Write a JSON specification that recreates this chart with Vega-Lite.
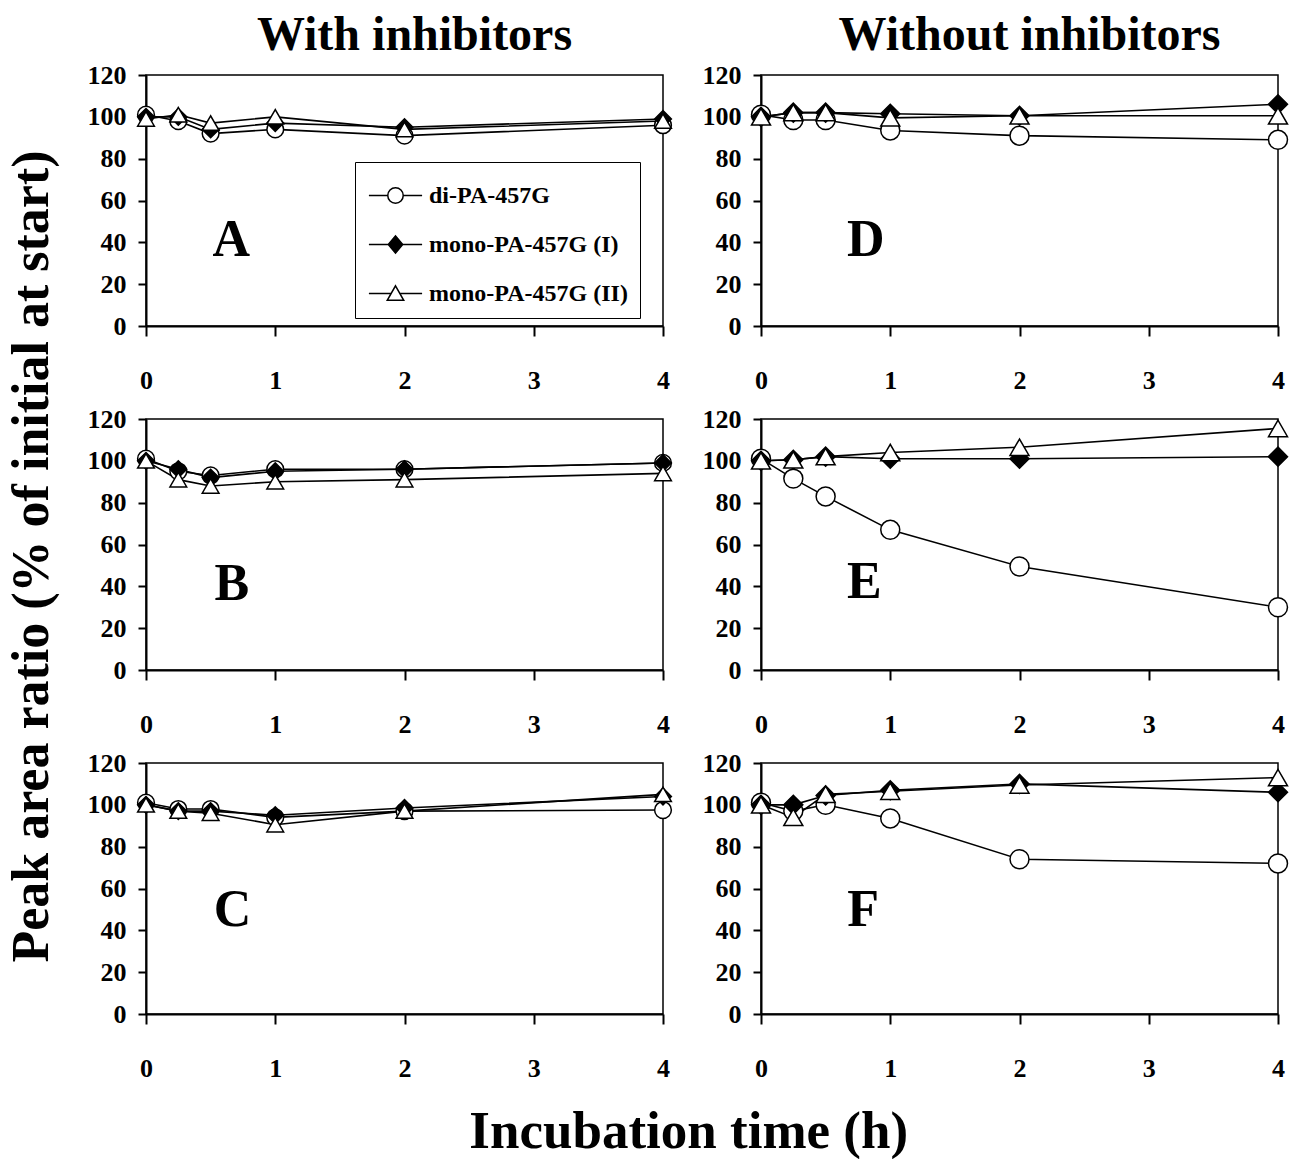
{
  "$schema": "https://vega.github.io/schema/vega-lite/v6.json",
  "background": "white",
  "padding": {"left": 6, "top": 11, "right": 5, "bottom": 5},
  "config": {
    "font": "Liberation Serif",
    "view": {"stroke": "black", "strokeWidth": 1.5},
    "axis": {"domainColor": "black", "domainWidth": 2, "tickColor": "black", "tickWidth": 2, "labelFont": "Liberation Serif", "labelFontWeight": "bold", "labelFontSize": 26, "labelColor": "black", "grid": false, "title": null, "labelFlush": false},
    "axisX": {"tickSize": 10, "labelPadding": 31, "format": "d"},
    "axisY": {"tickSize": 8, "labelPadding": 12, "format": "d"},
    "title": {"font": "Liberation Serif", "fontWeight": "bold", "color": "black"}
  },
  "datasets": {
    "main": [
      {"p":"A","s":"di-PA-457G","t":0,"v":101},{"p":"A","s":"di-PA-457G","t":0.25,"v":98},{"p":"A","s":"di-PA-457G","t":0.5,"v":92},{"p":"A","s":"di-PA-457G","t":1,"v":94},{"p":"A","s":"di-PA-457G","t":2,"v":91},{"p":"A","s":"di-PA-457G","t":4,"v":96},
      {"p":"A","s":"mono-PA-457G (I)","t":0,"v":100},{"p":"A","s":"mono-PA-457G (I)","t":0.25,"v":100},{"p":"A","s":"mono-PA-457G (I)","t":0.5,"v":94},{"p":"A","s":"mono-PA-457G (I)","t":1,"v":97},{"p":"A","s":"mono-PA-457G (I)","t":2,"v":95},{"p":"A","s":"mono-PA-457G (I)","t":4,"v":99},
      {"p":"A","s":"mono-PA-457G (II)","t":0,"v":99},{"p":"A","s":"mono-PA-457G (II)","t":0.25,"v":101},{"p":"A","s":"mono-PA-457G (II)","t":0.5,"v":97},{"p":"A","s":"mono-PA-457G (II)","t":1,"v":100},{"p":"A","s":"mono-PA-457G (II)","t":2,"v":94},{"p":"A","s":"mono-PA-457G (II)","t":4,"v":98},
      {"p":"B","s":"di-PA-457G","t":0,"v":101},{"p":"B","s":"di-PA-457G","t":0.25,"v":95},{"p":"B","s":"di-PA-457G","t":0.5,"v":93},{"p":"B","s":"di-PA-457G","t":1,"v":96},{"p":"B","s":"di-PA-457G","t":2,"v":96},{"p":"B","s":"di-PA-457G","t":4,"v":99},
      {"p":"B","s":"mono-PA-457G (I)","t":0,"v":100},{"p":"B","s":"mono-PA-457G (I)","t":0.25,"v":96},{"p":"B","s":"mono-PA-457G (I)","t":0.5,"v":92},{"p":"B","s":"mono-PA-457G (I)","t":1,"v":95},{"p":"B","s":"mono-PA-457G (I)","t":2,"v":96},{"p":"B","s":"mono-PA-457G (I)","t":4,"v":99},
      {"p":"B","s":"mono-PA-457G (II)","t":0,"v":100},{"p":"B","s":"mono-PA-457G (II)","t":0.25,"v":91},{"p":"B","s":"mono-PA-457G (II)","t":0.5,"v":88},{"p":"B","s":"mono-PA-457G (II)","t":1,"v":90},{"p":"B","s":"mono-PA-457G (II)","t":2,"v":91},{"p":"B","s":"mono-PA-457G (II)","t":4,"v":94},
      {"p":"C","s":"di-PA-457G","t":0,"v":101},{"p":"C","s":"di-PA-457G","t":0.25,"v":98},{"p":"C","s":"di-PA-457G","t":0.5,"v":98},{"p":"C","s":"di-PA-457G","t":1,"v":94},{"p":"C","s":"di-PA-457G","t":2,"v":97},{"p":"C","s":"di-PA-457G","t":4,"v":97.5},
      {"p":"C","s":"mono-PA-457G (I)","t":0,"v":100},{"p":"C","s":"mono-PA-457G (I)","t":0.25,"v":97},{"p":"C","s":"mono-PA-457G (I)","t":0.5,"v":97},{"p":"C","s":"mono-PA-457G (I)","t":1,"v":95},{"p":"C","s":"mono-PA-457G (I)","t":2,"v":98.5},{"p":"C","s":"mono-PA-457G (I)","t":4,"v":104},
      {"p":"C","s":"mono-PA-457G (II)","t":0,"v":100},{"p":"C","s":"mono-PA-457G (II)","t":0.25,"v":97},{"p":"C","s":"mono-PA-457G (II)","t":0.5,"v":96},{"p":"C","s":"mono-PA-457G (II)","t":1,"v":90.5},{"p":"C","s":"mono-PA-457G (II)","t":2,"v":97},{"p":"C","s":"mono-PA-457G (II)","t":4,"v":105},
      {"p":"D","s":"di-PA-457G","t":0,"v":101},{"p":"D","s":"di-PA-457G","t":0.25,"v":98.5},{"p":"D","s":"di-PA-457G","t":0.5,"v":98.5},{"p":"D","s":"di-PA-457G","t":1,"v":93.5},{"p":"D","s":"di-PA-457G","t":2,"v":91},{"p":"D","s":"di-PA-457G","t":4,"v":89},
      {"p":"D","s":"mono-PA-457G (I)","t":0,"v":100},{"p":"D","s":"mono-PA-457G (I)","t":0.25,"v":102},{"p":"D","s":"mono-PA-457G (I)","t":0.5,"v":102},{"p":"D","s":"mono-PA-457G (I)","t":1,"v":101.5},{"p":"D","s":"mono-PA-457G (I)","t":2,"v":100.5},{"p":"D","s":"mono-PA-457G (I)","t":4,"v":106},
      {"p":"D","s":"mono-PA-457G (II)","t":0,"v":100},{"p":"D","s":"mono-PA-457G (II)","t":0.25,"v":102},{"p":"D","s":"mono-PA-457G (II)","t":0.5,"v":102},{"p":"D","s":"mono-PA-457G (II)","t":1,"v":99.5},{"p":"D","s":"mono-PA-457G (II)","t":2,"v":100.5},{"p":"D","s":"mono-PA-457G (II)","t":4,"v":100.5},
      {"p":"E","s":"di-PA-457G","t":0,"v":101},{"p":"E","s":"di-PA-457G","t":0.25,"v":91.5},{"p":"E","s":"di-PA-457G","t":0.5,"v":83},{"p":"E","s":"di-PA-457G","t":1,"v":67},{"p":"E","s":"di-PA-457G","t":2,"v":49.5},{"p":"E","s":"di-PA-457G","t":4,"v":30},
      {"p":"E","s":"mono-PA-457G (I)","t":0,"v":100},{"p":"E","s":"mono-PA-457G (I)","t":0.25,"v":100.5},{"p":"E","s":"mono-PA-457G (I)","t":0.5,"v":102},{"p":"E","s":"mono-PA-457G (I)","t":1,"v":101},{"p":"E","s":"mono-PA-457G (I)","t":2,"v":101},{"p":"E","s":"mono-PA-457G (I)","t":4,"v":102},
      {"p":"E","s":"mono-PA-457G (II)","t":0,"v":100},{"p":"E","s":"mono-PA-457G (II)","t":0.25,"v":100.5},{"p":"E","s":"mono-PA-457G (II)","t":0.5,"v":102},{"p":"E","s":"mono-PA-457G (II)","t":1,"v":104},{"p":"E","s":"mono-PA-457G (II)","t":2,"v":106.5},{"p":"E","s":"mono-PA-457G (II)","t":4,"v":115.5},
      {"p":"F","s":"di-PA-457G","t":0,"v":101},{"p":"F","s":"di-PA-457G","t":0.25,"v":97},{"p":"F","s":"di-PA-457G","t":0.5,"v":100},{"p":"F","s":"di-PA-457G","t":1,"v":93.5},{"p":"F","s":"di-PA-457G","t":2,"v":74},{"p":"F","s":"di-PA-457G","t":4,"v":72},
      {"p":"F","s":"mono-PA-457G (I)","t":0,"v":100},{"p":"F","s":"mono-PA-457G (I)","t":0.25,"v":100},{"p":"F","s":"mono-PA-457G (I)","t":0.5,"v":104.5},{"p":"F","s":"mono-PA-457G (I)","t":1,"v":107},{"p":"F","s":"mono-PA-457G (I)","t":2,"v":110},{"p":"F","s":"mono-PA-457G (I)","t":4,"v":106},
      {"p":"F","s":"mono-PA-457G (II)","t":0,"v":100},{"p":"F","s":"mono-PA-457G (II)","t":0.25,"v":94},{"p":"F","s":"mono-PA-457G (II)","t":0.5,"v":105},{"p":"F","s":"mono-PA-457G (II)","t":1,"v":106.5},{"p":"F","s":"mono-PA-457G (II)","t":2,"v":109.5},{"p":"F","s":"mono-PA-457G (II)","t":4,"v":113}
    ],
    "letters": [
      {"p":"A","t":0.66,"v":41},{"p":"B","t":0.665,"v":41},{"p":"C","t":0.67,"v":49.5},
      {"p":"D","t":0.81,"v":41},{"p":"E","t":0.8,"v":42},{"p":"F","t":0.79,"v":49.5}
    ]
  },
  "title": {"text": "Incubation time (h)", "orient": "bottom", "anchor": "middle", "fontSize": 53, "baseline": "top", "offset": 24, "dx": 40},
  "vconcat": [
    {
      "title": {"text": "Peak area ratio (% of initial at start)", "orient": "left", "anchor": "middle", "fontSize": 52, "baseline": "bottom", "offset": -25, "dx": -10},
      "columns": 2,
      "bounds": "flush",
      "spacing": {"row": 93, "column": 98},
      "resolve": {"scale": {"fill": "independent", "shape": "independent", "stroke": "independent"}},
      "concat": [
        {
          "width": 517, "height": 251,
          "title": {"text": "With inhibitors", "fontSize": 48, "anchor": "middle", "frame": "group", "dx": 10, "baseline": "alphabetic", "offset": -36},
          "resolve": {"scale": {"fill": "independent", "shape": "independent", "stroke": "independent"}},
          "layer": [
            {"data": {"name": "main"}, "transform": [{"filter": "datum.p == 'A'"}],
             "mark": {"type": "line", "color": "black", "strokeWidth": 1.6},
             "encoding": {
               "x": {"field": "t", "type": "quantitative", "scale": {"domain": [0, 4], "nice": false}, "axis": {"values": [0, 1, 2, 3, 4]}},
               "y": {"field": "v", "type": "quantitative", "scale": {"domain": [0, 120], "nice": false}, "axis": {"values": [0, 20, 40, 60, 80, 100, 120]}},
               "detail": {"field": "s"}}},
            {"data": {"name": "main"}, "transform": [{"filter": "datum.p == 'A'"}],
             "mark": {"type": "point", "filled": true, "stroke": "black", "strokeWidth": 1.5, "opacity": 1, "size": 280},
             "encoding": {
               "x": {"field": "t", "type": "quantitative"},
               "y": {"field": "v", "type": "quantitative"},
               "fill": {"field": "s", "type": "nominal", "scale": {"domain": ["di-PA-457G", "mono-PA-457G (I)", "mono-PA-457G (II)"], "range": ["white", "black", "white"]}, "legend": null},
               "shape": {"field": "s", "type": "nominal", "scale": {"domain": ["di-PA-457G", "mono-PA-457G (I)", "mono-PA-457G (II)"], "range": ["circle", "diamond", "triangle-up"]}, "legend": null}}},
            {"data": {"name": "main"}, "transform": [{"filter": "datum.p == 'A'"}],
             "mark": {"type": "point", "filled": true, "strokeWidth": 1.5, "opacity": 1, "size": 0},
             "encoding": {
               "x": {"field": "t", "type": "quantitative"},
               "y": {"field": "v", "type": "quantitative"},
               "fill": {"field": "s", "type": "nominal", "scale": {"domain": ["di-PA-457G", "mono-PA-457G (I)", "mono-PA-457G (II)"], "range": ["white", "black", "white"]},
                 "legend": {"orient": "none", "legendX": 209, "legendY": 87, "title": null, "strokeColor": "black", "fillColor": "white", "padding": 12, "symbolSize": 1700, "symbolStrokeWidth": 1.5, "symbolOffset": 7, "labelOffset": 12, "labelFont": "Liberation Serif", "labelFontWeight": "bold", "labelFontSize": 24, "labelColor": "black", "labelLimit": 400, "rowPadding": 15}},
               "stroke": {"field": "s", "type": "nominal", "scale": {"domain": ["di-PA-457G", "mono-PA-457G (I)", "mono-PA-457G (II)"], "range": ["black", "black", "black"]},
                 "legend": {"orient": "none", "legendX": 209, "legendY": 87, "title": null, "strokeColor": "black", "fillColor": "white", "padding": 12, "symbolSize": 1700, "symbolStrokeWidth": 1.5, "symbolOffset": 7, "labelOffset": 12, "labelFont": "Liberation Serif", "labelFontWeight": "bold", "labelFontSize": 24, "labelColor": "black", "labelLimit": 400, "rowPadding": 15}},
               "shape": {"field": "s", "type": "nominal", "scale": {"domain": ["di-PA-457G", "mono-PA-457G (I)", "mono-PA-457G (II)"], "range": ["M-1.29,0H-0.375M0.375,0H1.29M0.375,0A0.375,0.375,0,1,1,-0.375,0A0.375,0.375,0,1,1,0.375,0Z", "M-1.29,0H-0.35M0.35,0H1.29M-0.35,0L0,-0.42L0.35,0L0,0.42Z", "M-1.29,0H-0.211M0.211,0H1.29M0,-0.37L0.4,0.33L-0.4,0.33Z"]},
                 "legend": {"orient": "none", "legendX": 209, "legendY": 87, "title": null, "strokeColor": "black", "fillColor": "white", "padding": 12, "symbolSize": 1700, "symbolStrokeWidth": 1.5, "symbolOffset": 7, "labelOffset": 12, "labelFont": "Liberation Serif", "labelFontWeight": "bold", "labelFontSize": 24, "labelColor": "black", "labelLimit": 400, "rowPadding": 15}}}},
            {"data": {"name": "letters"}, "transform": [{"filter": "datum.p == 'A'"}],
             "mark": {"type": "text", "fontSize": 52, "fontWeight": "bold", "font": "Liberation Serif", "align": "center", "baseline": "middle", "color": "black"},
             "encoding": {"x": {"field": "t", "type": "quantitative"}, "y": {"field": "v", "type": "quantitative"}, "text": {"field": "p"}}}
          ]
        },
        {
          "width": 517, "height": 251,
          "title": {"text": "Without inhibitors", "fontSize": 48, "anchor": "middle", "frame": "group", "dx": 10, "baseline": "alphabetic", "offset": -36},
          "layer": [
            {"data": {"name": "main"}, "transform": [{"filter": "datum.p == 'D'"}],
             "mark": {"type": "line", "color": "black", "strokeWidth": 1.6},
             "encoding": {
               "x": {"field": "t", "type": "quantitative", "scale": {"domain": [0, 4], "nice": false}, "axis": {"values": [0, 1, 2, 3, 4]}},
               "y": {"field": "v", "type": "quantitative", "scale": {"domain": [0, 120], "nice": false}, "axis": {"values": [0, 20, 40, 60, 80, 100, 120]}},
               "detail": {"field": "s"}}},
            {"data": {"name": "main"}, "transform": [{"filter": "datum.p == 'D'"}],
             "mark": {"type": "point", "filled": true, "stroke": "black", "strokeWidth": 1.5, "opacity": 1, "size": 360},
             "encoding": {
               "x": {"field": "t", "type": "quantitative"},
               "y": {"field": "v", "type": "quantitative"},
               "fill": {"field": "s", "type": "nominal", "scale": {"domain": ["di-PA-457G", "mono-PA-457G (I)", "mono-PA-457G (II)"], "range": ["white", "black", "white"]}, "legend": null},
               "shape": {"field": "s", "type": "nominal", "scale": {"domain": ["di-PA-457G", "mono-PA-457G (I)", "mono-PA-457G (II)"], "range": ["circle", "diamond", "triangle-up"]}, "legend": null}}},
            {"data": {"name": "letters"}, "transform": [{"filter": "datum.p == 'D'"}],
             "mark": {"type": "text", "fontSize": 52, "fontWeight": "bold", "font": "Liberation Serif", "align": "center", "baseline": "middle", "color": "black"},
             "encoding": {"x": {"field": "t", "type": "quantitative"}, "y": {"field": "v", "type": "quantitative"}, "text": {"field": "p"}}}
          ]
        },
        {
          "width": 517, "height": 251,
          "layer": [
            {"data": {"name": "main"}, "transform": [{"filter": "datum.p == 'B'"}],
             "mark": {"type": "line", "color": "black", "strokeWidth": 1.6},
             "encoding": {
               "x": {"field": "t", "type": "quantitative", "scale": {"domain": [0, 4], "nice": false}, "axis": {"values": [0, 1, 2, 3, 4]}},
               "y": {"field": "v", "type": "quantitative", "scale": {"domain": [0, 120], "nice": false}, "axis": {"values": [0, 20, 40, 60, 80, 100, 120]}},
               "detail": {"field": "s"}}},
            {"data": {"name": "main"}, "transform": [{"filter": "datum.p == 'B'"}],
             "mark": {"type": "point", "filled": true, "stroke": "black", "strokeWidth": 1.5, "opacity": 1, "size": 280},
             "encoding": {
               "x": {"field": "t", "type": "quantitative"},
               "y": {"field": "v", "type": "quantitative"},
               "fill": {"field": "s", "type": "nominal", "scale": {"domain": ["di-PA-457G", "mono-PA-457G (I)", "mono-PA-457G (II)"], "range": ["white", "black", "white"]}, "legend": null},
               "shape": {"field": "s", "type": "nominal", "scale": {"domain": ["di-PA-457G", "mono-PA-457G (I)", "mono-PA-457G (II)"], "range": ["circle", "diamond", "triangle-up"]}, "legend": null}}},
            {"data": {"name": "letters"}, "transform": [{"filter": "datum.p == 'B'"}],
             "mark": {"type": "text", "fontSize": 52, "fontWeight": "bold", "font": "Liberation Serif", "align": "center", "baseline": "middle", "color": "black"},
             "encoding": {"x": {"field": "t", "type": "quantitative"}, "y": {"field": "v", "type": "quantitative"}, "text": {"field": "p"}}}
          ]
        },
        {
          "width": 517, "height": 251,
          "layer": [
            {"data": {"name": "main"}, "transform": [{"filter": "datum.p == 'E'"}],
             "mark": {"type": "line", "color": "black", "strokeWidth": 1.6},
             "encoding": {
               "x": {"field": "t", "type": "quantitative", "scale": {"domain": [0, 4], "nice": false}, "axis": {"values": [0, 1, 2, 3, 4]}},
               "y": {"field": "v", "type": "quantitative", "scale": {"domain": [0, 120], "nice": false}, "axis": {"values": [0, 20, 40, 60, 80, 100, 120]}},
               "detail": {"field": "s"}}},
            {"data": {"name": "main"}, "transform": [{"filter": "datum.p == 'E'"}],
             "mark": {"type": "point", "filled": true, "stroke": "black", "strokeWidth": 1.5, "opacity": 1, "size": 360},
             "encoding": {
               "x": {"field": "t", "type": "quantitative"},
               "y": {"field": "v", "type": "quantitative"},
               "fill": {"field": "s", "type": "nominal", "scale": {"domain": ["di-PA-457G", "mono-PA-457G (I)", "mono-PA-457G (II)"], "range": ["white", "black", "white"]}, "legend": null},
               "shape": {"field": "s", "type": "nominal", "scale": {"domain": ["di-PA-457G", "mono-PA-457G (I)", "mono-PA-457G (II)"], "range": ["circle", "diamond", "triangle-up"]}, "legend": null}}},
            {"data": {"name": "letters"}, "transform": [{"filter": "datum.p == 'E'"}],
             "mark": {"type": "text", "fontSize": 52, "fontWeight": "bold", "font": "Liberation Serif", "align": "center", "baseline": "middle", "color": "black"},
             "encoding": {"x": {"field": "t", "type": "quantitative"}, "y": {"field": "v", "type": "quantitative"}, "text": {"field": "p"}}}
          ]
        },
        {
          "width": 517, "height": 251,
          "layer": [
            {"data": {"name": "main"}, "transform": [{"filter": "datum.p == 'C'"}],
             "mark": {"type": "line", "color": "black", "strokeWidth": 1.6},
             "encoding": {
               "x": {"field": "t", "type": "quantitative", "scale": {"domain": [0, 4], "nice": false}, "axis": {"values": [0, 1, 2, 3, 4]}},
               "y": {"field": "v", "type": "quantitative", "scale": {"domain": [0, 120], "nice": false}, "axis": {"values": [0, 20, 40, 60, 80, 100, 120]}},
               "detail": {"field": "s"}}},
            {"data": {"name": "main"}, "transform": [{"filter": "datum.p == 'C'"}],
             "mark": {"type": "point", "filled": true, "stroke": "black", "strokeWidth": 1.5, "opacity": 1, "size": 280},
             "encoding": {
               "x": {"field": "t", "type": "quantitative"},
               "y": {"field": "v", "type": "quantitative"},
               "fill": {"field": "s", "type": "nominal", "scale": {"domain": ["di-PA-457G", "mono-PA-457G (I)", "mono-PA-457G (II)"], "range": ["white", "black", "white"]}, "legend": null},
               "shape": {"field": "s", "type": "nominal", "scale": {"domain": ["di-PA-457G", "mono-PA-457G (I)", "mono-PA-457G (II)"], "range": ["circle", "diamond", "triangle-up"]}, "legend": null}}},
            {"data": {"name": "letters"}, "transform": [{"filter": "datum.p == 'C'"}],
             "mark": {"type": "text", "fontSize": 52, "fontWeight": "bold", "font": "Liberation Serif", "align": "center", "baseline": "middle", "color": "black"},
             "encoding": {"x": {"field": "t", "type": "quantitative"}, "y": {"field": "v", "type": "quantitative"}, "text": {"field": "p"}}}
          ]
        },
        {
          "width": 517, "height": 251,
          "layer": [
            {"data": {"name": "main"}, "transform": [{"filter": "datum.p == 'F'"}],
             "mark": {"type": "line", "color": "black", "strokeWidth": 1.6},
             "encoding": {
               "x": {"field": "t", "type": "quantitative", "scale": {"domain": [0, 4], "nice": false}, "axis": {"values": [0, 1, 2, 3, 4]}},
               "y": {"field": "v", "type": "quantitative", "scale": {"domain": [0, 120], "nice": false}, "axis": {"values": [0, 20, 40, 60, 80, 100, 120]}},
               "detail": {"field": "s"}}},
            {"data": {"name": "main"}, "transform": [{"filter": "datum.p == 'F'"}],
             "mark": {"type": "point", "filled": true, "stroke": "black", "strokeWidth": 1.5, "opacity": 1, "size": 360},
             "encoding": {
               "x": {"field": "t", "type": "quantitative"},
               "y": {"field": "v", "type": "quantitative"},
               "fill": {"field": "s", "type": "nominal", "scale": {"domain": ["di-PA-457G", "mono-PA-457G (I)", "mono-PA-457G (II)"], "range": ["white", "black", "white"]}, "legend": null},
               "shape": {"field": "s", "type": "nominal", "scale": {"domain": ["di-PA-457G", "mono-PA-457G (I)", "mono-PA-457G (II)"], "range": ["circle", "diamond", "triangle-up"]}, "legend": null}}},
            {"data": {"name": "letters"}, "transform": [{"filter": "datum.p == 'F'"}],
             "mark": {"type": "text", "fontSize": 52, "fontWeight": "bold", "font": "Liberation Serif", "align": "center", "baseline": "middle", "color": "black"},
             "encoding": {"x": {"field": "t", "type": "quantitative"}, "y": {"field": "v", "type": "quantitative"}, "text": {"field": "p"}}}
          ]
        }
      ]
    }
  ]
}
